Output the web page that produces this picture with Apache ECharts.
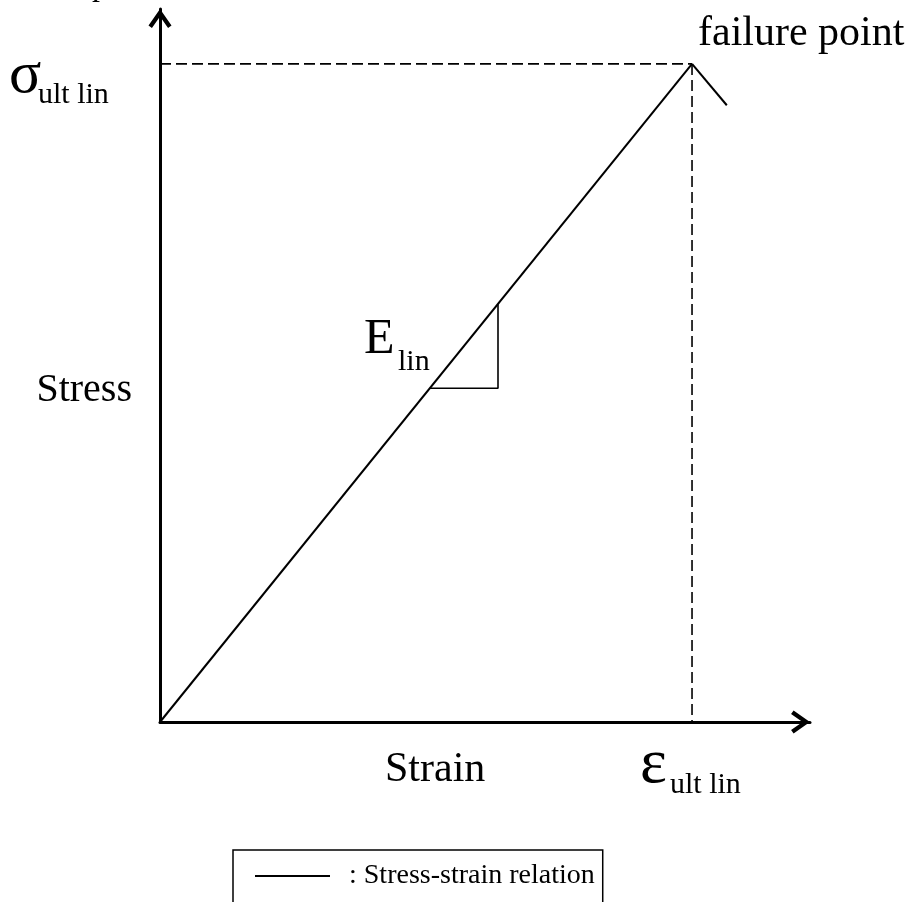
<!DOCTYPE html>
<html>
<head>
<meta charset="utf-8">
<script src="https://cdn.jsdelivr.net/npm/echarts@6/dist/echarts.min.js"></script>
<style>
  html, body { margin: 0; padding: 0; background: #ffffff; }
  #chart { width: 915px; height: 902px; }
</style>
</head>
<body>
<div id="chart"></div>
<script>
// ---- data (arbitrary units, axes 0..100) ----
const seriesName = 'Stress-strain relation';
const strainLin = [0, 81.85];          // strain values of the linear branch
const stressLin = [0, 92.3];           // stress values of the linear branch
const strainPost = [81.85, 87.2];      // short drop after failure
const stressPost = [92.3, 86.5];
const triStrain = [41.5, 52.0, 52.0];  // slope triangle
const triStress = [46.8, 46.8, 58.6];
const ultStrain = 81.85;
const ultStress = 92.3;
const axisMax = 100;

const FONT = '"Liberation Serif", "DejaVu Serif", serif';

function pairs(xs, ys) { return xs.map((x, i) => [x, ys[i]]); }

const arrowPath = 'path://M10,0 L20,14.2 L17,16.4 L10,6.4 L3,16.4 L0,14.2 Z';
const axisLine = {
  show: true,
  onZero: false,
  symbol: ['none', arrowPath],
  symbolSize: [23, 19],
  symbolOffset: [0, -9.5],
  lineStyle: { color: '#000', width: 3 }
};

const chart = echarts.init(document.getElementById('chart'), null, { renderer: 'canvas' });

function txt(text, x, y, size, align) {
  return {
    type: 'text', x: x, y: y, z: 100,
    style: { text: text, font: size + 'px ' + FONT, fill: '#000', align: align || 'left', verticalAlign: 'middle' }
  };
}

chart.setOption({
  animation: false,
  backgroundColor: '#fff',
  grid: { left: 160, top: 9, width: 650, height: 713 },
  xAxis: {
    type: 'value', min: 0, max: axisMax,
    axisLine: axisLine, axisTick: { show: false }, axisLabel: { show: false }, splitLine: { show: false }
  },
  yAxis: {
    type: 'value', min: 0, max: axisMax,
    axisLine: axisLine, axisTick: { show: false }, axisLabel: { show: false }, splitLine: { show: false }
  },
  legend: {
    show: true,
    left: 233, top: 850,
    padding: [12, 8, 40, 22],
    borderColor: '#000', borderWidth: 1.5,
    itemWidth: 75, itemHeight: 2,
    icon: 'rect',
    data: [seriesName],
    formatter: '\u2002: {name}',
    textStyle: { fontFamily: FONT, fontSize: 28, color: '#000' }
  },
  series: [
    {
      name: seriesName, type: 'line', data: pairs(strainLin, stressLin),
      showSymbol: false, symbol: 'none', lineStyle: { color: '#000', width: 2 }, itemStyle: { color: '#000' }, z: 5
    },
    {
      name: 'post', type: 'line', data: pairs(strainPost, stressPost),
      showSymbol: false, symbol: 'none', lineStyle: { color: '#000', width: 2 }, z: 5
    },
    {
      name: 'slope', type: 'line', data: pairs(triStrain, triStress),
      showSymbol: false, symbol: 'none', lineStyle: { color: '#000', width: 1.6 }, z: 5
    },
    {
      name: 'ultH', type: 'line', data: [[0, ultStress], [ultStrain, ultStress]],
      showSymbol: false, symbol: 'none', lineStyle: { color: '#000', width: 1.6, type: [11, 5] }, z: 3
    },
    {
      name: 'ultV', type: 'line', data: [[ultStrain, ultStress], [ultStrain, 0]],
      showSymbol: false, symbol: 'none', lineStyle: { color: '#000', width: 1.6, type: [11, 5] }, z: 3
    }
  ],
  graphic: [
    txt('p', 92, -13, 32),
    txt('\u03C3', 9, 76, 60),
    txt('ult lin', 38, 95, 30),
    txt('failure point', 698, 34, 42),
    txt('E', 364, 340, 50),
    txt('lin', 398, 362, 30),
    txt('Stress', 132, 390, 40, 'right'),
    txt('Strain', 385, 770, 42),
    txt('\u03B5', 640, 765, 64),
    txt('ult lin', 670, 785, 30)
  ]
});
</script>
</body>
</html>
